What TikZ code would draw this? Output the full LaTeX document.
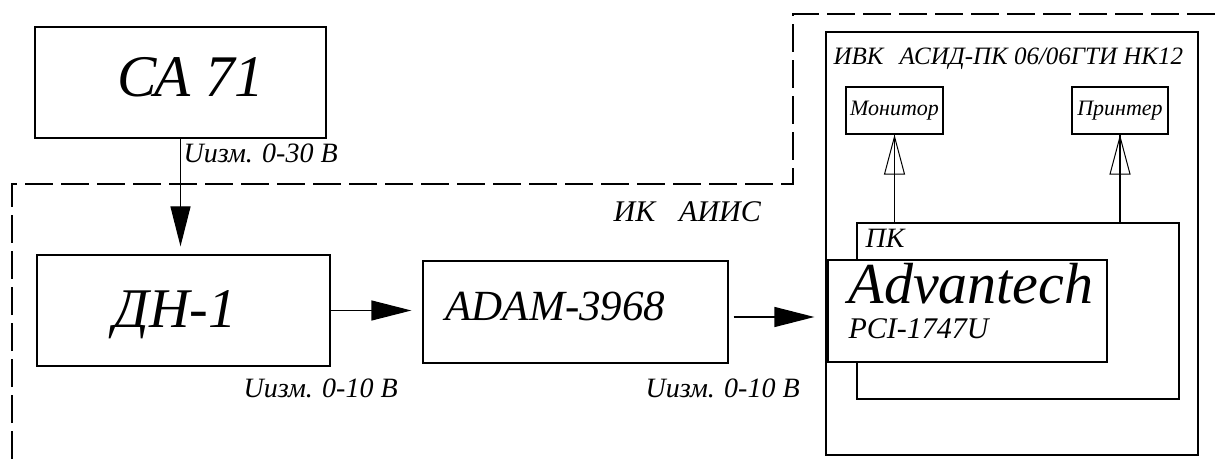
\documentclass[tikz,border=0pt]{standalone}
\usepackage{fontspec}
\setmainfont{Liberation Serif}
\usetikzlibrary{arrows.meta,positioning}
\newcommand\setfs[1]{\fontsize{#1}{#1}\selectfont\itshape}

\begin{document}
\begin{tikzpicture}[x=0.5pt,y=-0.5pt,line width=0.6pt,
    box/.style={draw,inner sep=0pt},
    txt/.style={inner sep=0pt,anchor=base west},
    fillarrow/.style={-{Triangle[length=20pt,width=10pt]}},
    hollow/.style={-{Triangle[open,length=20pt,width=10.5pt,line width=0.5pt]}}]
    \useasboundingbox (0,0) rectangle (1218,459);

    \node[box,minimum width=145.5pt,minimum height=55.5pt] (ca) at (180.5,82.5) {};
    \node[box,minimum width=146.5pt,minimum height=55.5pt] (dn) at (183.5,310.5) {};
    \node[box,minimum width=152.5pt,minimum height=51pt] (adam) at (575.5,312) {};
    \node[box,minimum width=186pt,minimum height=211.5pt] (ivk) at (1012,243.5) {};
    \node[box,minimum width=48.5pt,minimum height=23.5pt] (mon) at (894.5,110.5) {\setfs{11}Монитор};
    \node[box,minimum width=48pt,minimum height=23.5pt] (prn) at (1120,110.5) {\setfs{11}Принтер};
    \node[box,minimum width=161pt,minimum height=88pt] (pk) at (1018,311) {};
    \node[box,fill=white,minimum width=139.5pt,minimum height=51pt] (adv) at (967.5,311) {};

    \node[txt] (catxt) at (117,97) {\setfs{29.5}СА 71};
    \node[txt] (dntxt) at (113,327) {\setfs{28}ДН-1};
    \node[txt] (adamtxt) at (445,320) {\setfs{21.5}ADAM-3968};
    \node[txt] (advtxt) at (848,303) {\setfs{29}Advantech};
    \node[txt] (pcitxt) at (848,338) {\setfs{15}PCI-1747U};
    \node[txt] (pktxt) at (865,248) {\setfs{14}ПК};
    \node[txt] (ivktxt) at (833,65) {\setfs{12.5}ИВК\hspace{8pt}АСИД-ПК 06/06ГТИ НК12};
    \node[txt] (iktxt) at (613,222) {\setfs{15}ИК\hspace{12pt}АИИС};
    \node[txt] (u30) at (183,163) {\setfs{14}Uизм. 0-30 В};
    \node[txt] (u10a) at (243,397) {\setfs{14}Uизм. 0-10 В};
    \node[txt] (u10b) at (645,397) {\setfs{14}Uизм. 0-10 В};

    \draw[dashed,dash pattern=on 14pt off 4pt] (12,459) -- (12,184) -- (793,184) -- (793,14) -- (1218,14);

    \draw[fillarrow,shorten >=4pt] (ca.south) -- (ca.south |- dn.north);
    \draw[fillarrow,shorten >=5.5pt] (dn.east) -- (dn.east -| adam.west);
    \draw[fillarrow,shorten <=2.5pt,shorten >=6.5pt] ([yshift=-2.5pt]adam.east) -- ([yshift=-2.5pt]adam.east -| adv.west);
    \draw[hollow] (pk.north -| mon.south) -- (mon.south);
    \draw (pk.north -| mon.south) -- (mon.south);
    \draw[hollow] (pk.north -| prn.south) -- (prn.south);
    \draw (pk.north -| prn.south) -- (prn.south);
\end{tikzpicture}
\end{document}
